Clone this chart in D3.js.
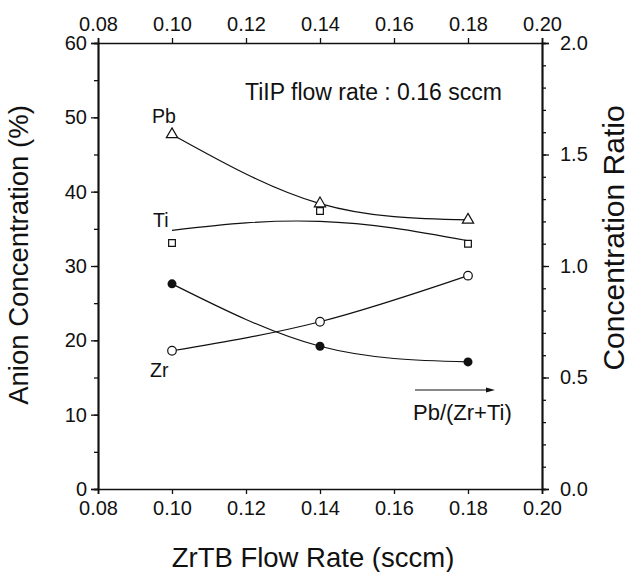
<!DOCTYPE html>
<html>
<head>
<meta charset="utf-8">
<script src="https://cdn.jsdelivr.net/npm/d3@7"></script>
<style>
  body { margin: 0; background: #fff; }
  text { font-family: Arial, "Liberation Sans", Helvetica, sans-serif; fill: #111; }
</style>
</head>
<body>
<script>
// data
var flow = [0.10, 0.14, 0.18];
var pb = [47.7, 38.4, 36.2];
var ti = [33.1, 37.4, 33.0];
var zr = [18.6, 22.5, 28.7];
var ratio = [0.92, 0.64, 0.57];
// Ti fit curve (not through points)
var tiFitX = [0.10, 0.12, 0.14, 0.16, 0.18];
var tiFitY = [34.8, 35.8, 36.0, 35.1, 33.4];
var xTicks = [0.08, 0.10, 0.12, 0.14, 0.16, 0.18, 0.20];
var leftTicks = [0, 10, 20, 30, 40, 50, 60];
var rightTicks = [0.0, 0.5, 1.0, 1.5, 2.0];

var W = 633, H = 572;
var margin = {top: 43, right: 91, bottom: 83, left: 98},
    width = W - margin.left - margin.right,
    height = H - margin.top - margin.bottom;

var svg = d3.select("body")
  .append("svg")
    .attr("width", W)
    .attr("height", H)
  .append("g")
    .attr("transform", "translate(" + margin.left + "," + margin.top + ")");

var x = d3.scaleLinear().domain([0.08, 0.20]).range([0, width]);
var y = d3.scaleLinear().domain([0, 60]).range([height, 0]);
var y2 = d3.scaleLinear().domain([0, 2]).range([height, 0]);

var fmt2 = d3.format(".2f");

function styleAxis(g) {
  g.selectAll("path").attr("stroke", "#111").attr("stroke-width", 1.7);
  g.selectAll("line").attr("stroke", "#111").attr("stroke-width", 1.3);
  g.selectAll("text").style("font-size", "20px").attr("fill", "#111");
}

// bottom axis
svg.append("g")
  .attr("transform", "translate(0," + height + ")")
  .call(d3.axisBottom(x).tickValues(xTicks).tickFormat(fmt2).tickSize(5).tickPadding(7))
  .call(styleAxis);

// top axis
svg.append("g")
  .call(d3.axisTop(x).tickValues(xTicks).tickFormat(fmt2).tickSize(5).tickPadding(7))
  .call(styleAxis);

// left axis: minor ticks then major
svg.append("g")
  .call(d3.axisLeft(y).ticks(12).tickSize(4).tickFormat(""))
  .call(styleAxis);
svg.append("g")
  .call(d3.axisLeft(y).tickValues(leftTicks).tickSize(7).tickPadding(4))
  .call(styleAxis);

// right axis
svg.append("g")
  .attr("transform", "translate(" + width + ",0)")
  .call(d3.axisRight(y2).ticks(20).tickSize(4).tickFormat(""))
  .call(styleAxis);
svg.append("g")
  .attr("transform", "translate(" + width + ",0)")
  .call(d3.axisRight(y2).tickValues(rightTicks).tickFormat(d3.format(".1f")).tickSize(7).tickPadding(11))
  .call(styleAxis);

// curves
var lineL = d3.line().x(function(d) { return x(d[0]); }).y(function(d) { return y(d[1]); }).curve(d3.curveNatural);
var lineR = d3.line().x(function(d) { return x(d[0]); }).y(function(d) { return y2(d[1]); }).curve(d3.curveNatural);

function pairs(xs, ys) { return xs.map(function(v, i) { return [v, ys[i]]; }); }

var curves = svg.append("g").attr("fill", "none").attr("stroke", "#111").attr("stroke-width", 1.2);
curves.append("path").attr("d", lineL(pairs(flow, pb)));
curves.append("path").attr("d", lineL(pairs(tiFitX, tiFitY)));
curves.append("path").attr("d", lineL(pairs(flow, zr)));
curves.append("path").attr("d", lineR(pairs(flow, ratio)));

// markers
var tri = d3.symbol().type(d3.symbolTriangle).size(55);
var sq = d3.symbol().type(d3.symbolSquare).size(45);

svg.append("g").selectAll("path.pb")
  .data(pairs(flow, pb)).enter().append("path")
    .attr("d", tri)
    .attr("transform", function(d) { return "translate(" + x(d[0]) + "," + y(d[1]) + ")"; })
    .attr("fill", "#fff").attr("stroke", "#111").attr("stroke-width", 1.2);

svg.append("g").selectAll("path.ti")
  .data(pairs(flow, ti)).enter().append("path")
    .attr("d", sq)
    .attr("transform", function(d) { return "translate(" + x(d[0]) + "," + y(d[1]) + ")"; })
    .attr("fill", "#fff").attr("stroke", "#111").attr("stroke-width", 1.2);

svg.append("g").selectAll("circle.zr")
  .data(pairs(flow, zr)).enter().append("circle")
    .attr("cx", function(d) { return x(d[0]); })
    .attr("cy", function(d) { return y(d[1]); })
    .attr("r", 4.3)
    .attr("fill", "#fff").attr("stroke", "#111").attr("stroke-width", 1.2);

svg.append("g").selectAll("circle.ratio")
  .data(pairs(flow, ratio)).enter().append("circle")
    .attr("cx", function(d) { return x(d[0]); })
    .attr("cy", function(d) { return y2(d[1]); })
    .attr("r", 4.5)
    .attr("fill", "#111");

// series labels
svg.append("text").attr("x", 54).attr("y", 80).style("font-size", "19.5px").text("Pb");
svg.append("text").attr("x", 55).attr("y", 184).style("font-size", "19.5px").text("Ti");
svg.append("text").attr("x", 52).attr("y", 334).style("font-size", "19.5px").text("Zr");

// condition note
svg.append("text").attr("x", 147).attr("y", 57).style("font-size", "23px").text("TiIP flow rate : 0.16 sccm");

// arrow for ratio series
svg.append("line")
  .attr("x1", 317).attr("x2", 392).attr("y1", 347).attr("y2", 347)
  .attr("stroke", "#111").attr("stroke-width", 1);
svg.append("path")
  .attr("d", "M397,347 L388,344.5 L388,349.5 Z")
  .attr("fill", "#111");
svg.append("text").attr("x", 315).attr("y", 377).style("font-size", "22px").text("Pb/(Zr+Ti)");

// axis titles
svg.append("text")
  .attr("text-anchor", "middle")
  .attr("x", 313 - margin.left)
  .attr("y", 567 - margin.top)
  .style("font-size", "27.5px")
  .text("ZrTB Flow Rate (sccm)");

svg.append("text")
  .attr("text-anchor", "middle")
  .attr("transform", "rotate(-90)")
  .attr("x", -(255 - margin.top))
  .attr("y", 28 - margin.left)
  .style("font-size", "27.5px")
  .text("Anion Concentration (%)");

svg.append("text")
  .attr("text-anchor", "middle")
  .attr("transform", "rotate(-90)")
  .attr("x", -(238 - margin.top))
  .attr("y", 624 - margin.left)
  .style("font-size", "30px")
  .text("Concentration Ratio");
</script>
</body>
</html>
